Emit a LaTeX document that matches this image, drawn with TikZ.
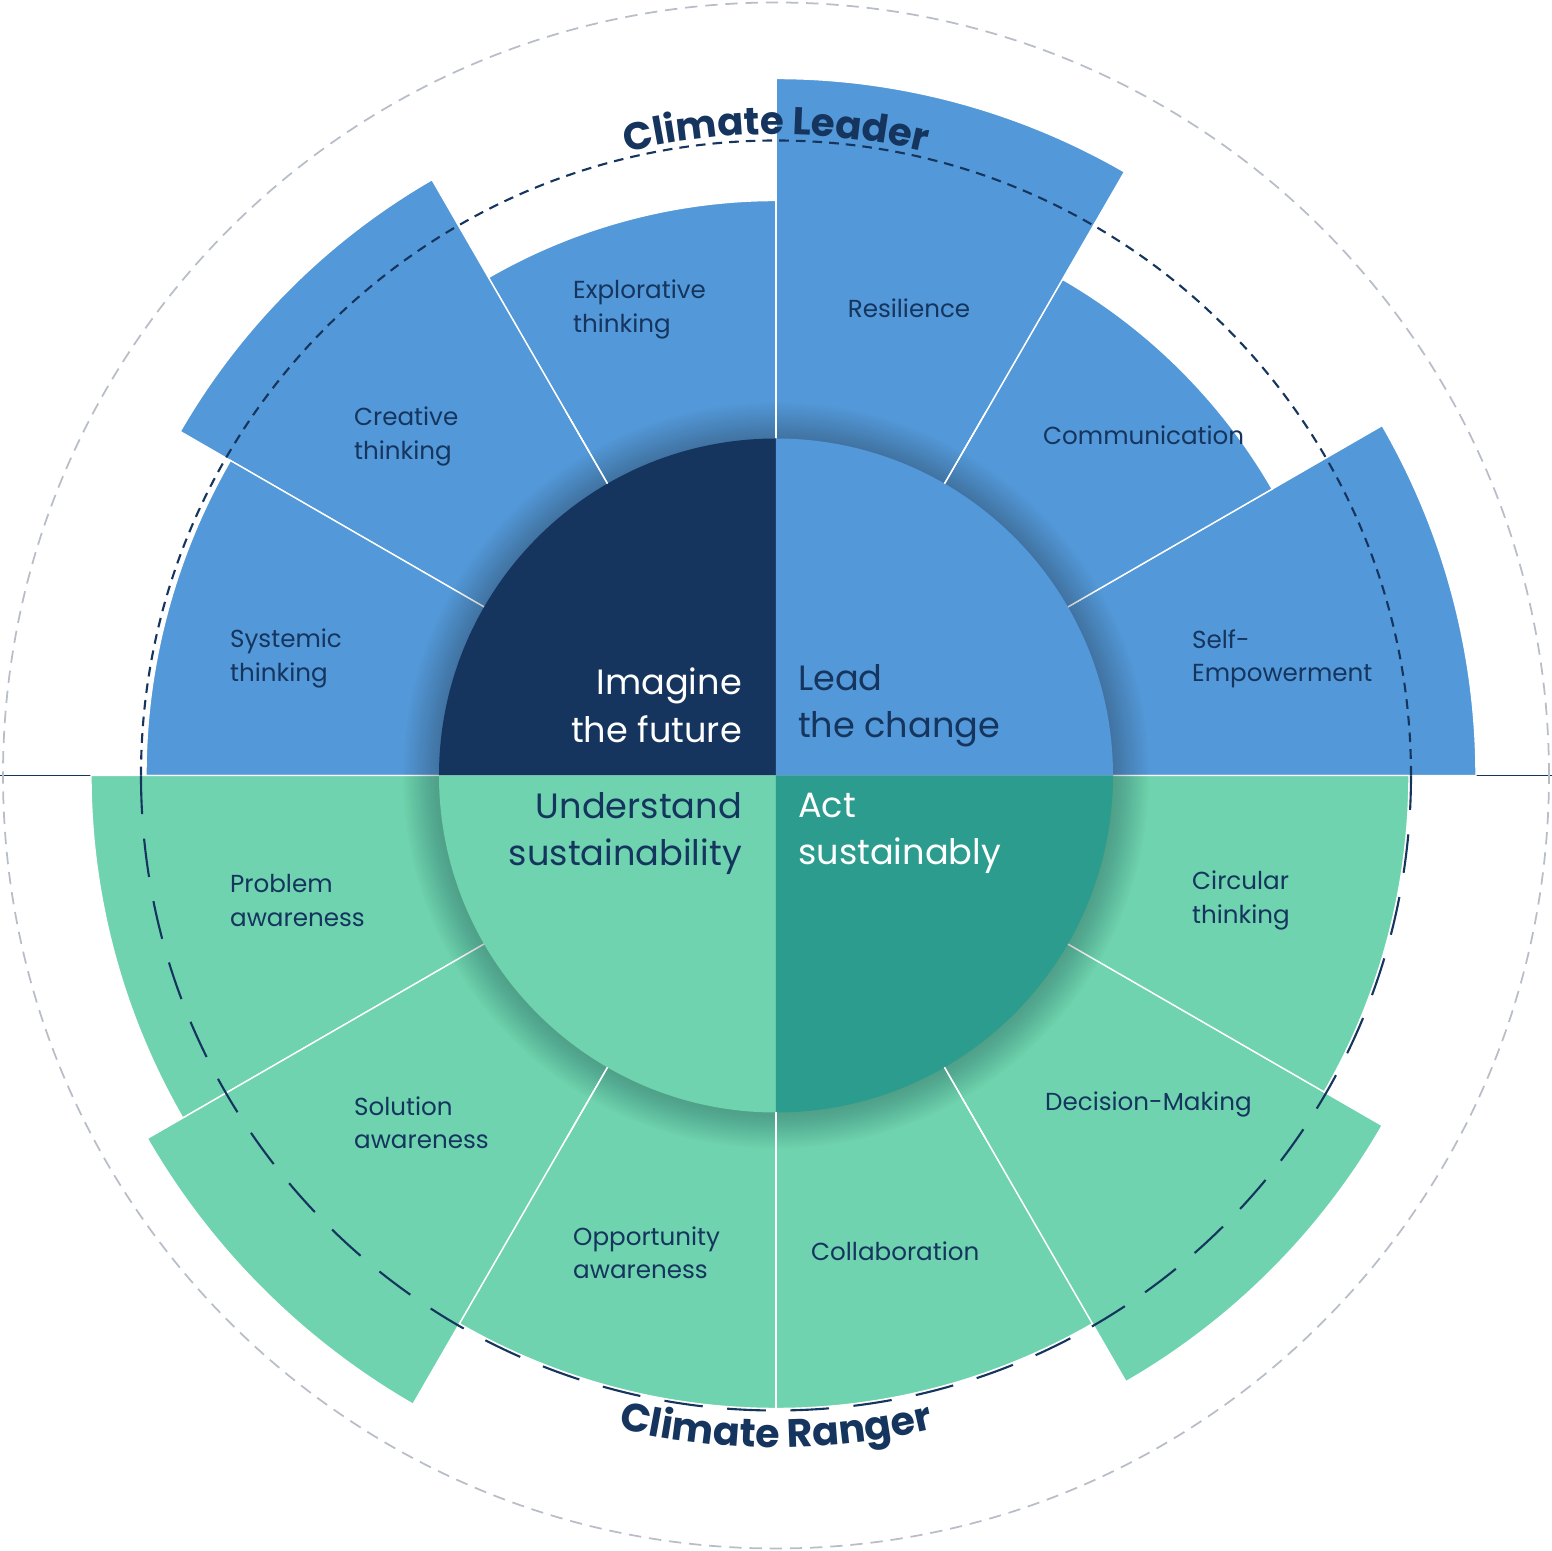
\documentclass[tikz,border=0pt]{standalone}
\usepackage{fontspec}
\setmainfont{Poppins}
\usetikzlibrary{positioning,decorations.text}
\definecolor{lblue}{HTML}{5398D8}
\definecolor{navy}{HTML}{15355E}
\definecolor{lgreen}{HTML}{6ED3AE}
\definecolor{teal}{HTML}{2C9C8E}
\definecolor{lgray}{HTML}{B8BEC8}
\tikzset{
  skill/.style={anchor=west, align=left, text=navy, font=\fontsize{14}{19}\selectfont},
  core/.style={align=left, font=\fontsize{20}{27}\selectfont},
  sector/.style={draw=white, line width=0.8pt},
}
\begin{document}
\begin{tikzpicture}[x=0.02cm, y=0.02cm]
\useasboundingbox (-776,-775.5) rectangle (776,775.5);
% base line and outer ring
\draw[navy, line width=1pt] (-776,0) -- (776,0);
\draw[lgray, line width=1pt, dash pattern=on 7pt off 4.5pt] (0,0) circle (773);
% petals
\foreach \a/\r/\c in {0/700/lblue, 30/573/lblue, 60/697/lblue, 90/575/lblue,
  120/688/lblue, 150/630/lblue, 180/685/lgreen, 210/726/lgreen,
  240/633/lgreen, 270/633/lgreen, 300/700/lgreen, 330/633/lgreen}
  \fill[\c, sector] (0,0) -- (\a:\r) arc (\a:\a+30:\r) -- cycle;
% leader / ranger rings
\draw[navy, line width=1.2pt, dash pattern=on 5.5pt off 4pt] (0:635) arc (0:180:635);
\draw[navy, line width=1.2pt, dash pattern=on 22pt off 14pt] (180:635) arc (180:360:635);
% shadow
\foreach \k in {2,4,...,36}
  \fill[black, opacity=0.012] (0,0) circle (337+\k);
% core
\fill[navy] (0,0) -- (0,337) arc (90:180:337) -- cycle;
\fill[lblue] (0,0) -- (337,0) arc (0:90:337) -- cycle;
\fill[lgreen] (0,0) -- (-337,0) arc (180:270:337) -- cycle;
\fill[teal] (0,0) -- (0,-337) arc (270:360:337) -- cycle;
\foreach \a in {60,120,240,300}
  \draw[white, line width=0.8pt] (\a:337) -- (\a:420);
\draw[white, line width=0.8pt] (0,337) -- (0,700);
\draw[white, line width=0.8pt] (0,-337) -- (0,-640);
\node[core, anchor=east, align=right, text=white] (imagine) at (-28,70) {Imagine\\the future};
\node[core, anchor=west, text=navy] (lead) at (16,70) {Lead\\the change};
\node[core, anchor=east, align=right, text=navy] (understand) at (-28,-58) {Understand\\sustainability};
\node[core, anchor=west, text=white] (act) at (16,-58) {Act\\sustainably};
% skills
\node[skill] (explorative) at (-209,466) {Explorative\\thinking};
\node[skill, anchor=center] (resilience) at (133,467) {Resilience};
\node[skill] (creative) at (-428,339) {Creative\\thinking};
\node[skill] (communication) at (261,340) {Communication};
\node[skill] (systemic) at (-552,117) {Systemic\\thinking};
\node[skill] (selfemp) at (410,117) {Self-\\Empowerment};
\node[skill] (problem) at (-552,-125) {Problem\\awareness};
\node[skill] (circular) at (410,-125) {Circular\\thinking};
\node[skill] (solution) at (-428,-347) {Solution\\awareness};
\node[skill] (decision) at (263,-329) {Decision-Making};
\node[skill] (opportunity) at (-209,-477) {Opportunity\\awareness};
\node[skill] (collaboration) at (29,-476) {Collaboration};
% titles
\path[decorate, decoration={text along path, text align=center,
  text={|\fontsize{22}{22}\bfseries\color{navy}|Climate Leader}}]
  (118:641) arc (118:62:641);
\path[decorate, decoration={text along path, text align=center,
  text={|\fontsize{22.5}{22}\bfseries\color{navy}|Climate Ranger}}]
  (238:672) arc (238:302:672);
\end{tikzpicture}
\end{document}
